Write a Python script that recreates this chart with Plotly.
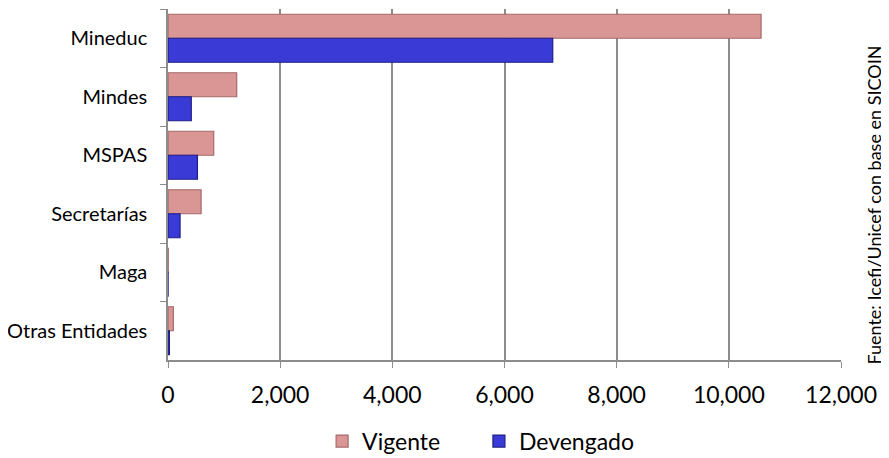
import plotly.graph_objects as go

entidades = ['Mineduc', 'Mindes', 'MSPAS', 'Secretarías', 'Maga', 'Otras Entidades']
vigente = [10575, 1225, 815, 590, 5, 95]
devengado = [6860, 415, 525, 215, 2, 25]

fuente_txt = 'Fuente: Icefi/Unicef con base en SICOIN'
font_fam = 'Lato'

fig = go.Figure()
fig.add_trace(go.Bar(
    y=entidades,
    x=vigente,
    name='Vigente',
    orientation='h',
    legend='legend',
    marker=dict(color='#DA9694', line=dict(color='#A46A69', width=1.2))
))
fig.add_trace(go.Bar(
    y=entidades,
    x=devengado,
    name='Devengado',
    orientation='h',
    legend='legend2',
    marker=dict(color='#3A3AD6', line=dict(color='#1E1E88', width=1.2))
))

ley = dict(
    orientation='h',
    y=-0.17, yanchor='top',
    font=dict(size=23, family=font_fam),
    itemwidth=30,
    bgcolor='rgba(0,0,0,0)'
)

# la pagina deja 8px de margen, se compensa aqui
fig.update_layout(
    width=881,
    height=450,
    margin=dict(l=160, r=48, t=1, b=98, autoexpand=False),
    paper_bgcolor='white',
    plot_bgcolor='white',
    barmode='group',
    bargap=0.18,
    bargroupgap=0.0,
    font=dict(family=font_fam, color='black'),
    showlegend=True,
    legend=dict(ley, x=0.229, xanchor='left'),
    legend2=dict(ley, x=0.462, xanchor='left'),
    xaxis=dict(
        range=[0, 12000],
        tickvals=[0, 2000, 4000, 6000, 8000, 10000, 12000],
        tickformat=',d',
        showgrid=True,
        gridcolor='#8C8C8C',
        gridwidth=1.5,
        showline=True,
        linecolor='#8C8C8C',
        linewidth=1.5,
        ticks='outside',
        ticklen=6,
        tickcolor='#8C8C8C',
        ticklabelstandoff=8,
        tickfont=dict(size=23, family=font_fam),
        zeroline=False,
        fixedrange=True
    ),
    yaxis=dict(
        autorange='reversed',
        showline=True,
        linecolor='#8C8C8C',
        linewidth=1.5,
        ticks='outside',
        tickson='boundaries',
        ticklen=6,
        tickcolor='#8C8C8C',
        ticklabelstandoff=15,
        tickfont=dict(size=20, family=font_fam),
        showgrid=False,
        fixedrange=True
    )
)

fig.add_annotation(
    text=fuente_txt,
    xref='paper', yref='paper',
    x=1.0, xshift=45,
    y=0.5, yshift=-21,
    textangle=-90,
    showarrow=False,
    font=dict(size=18, family=font_fam, color='black')
)

fig.write_html('out.html')
